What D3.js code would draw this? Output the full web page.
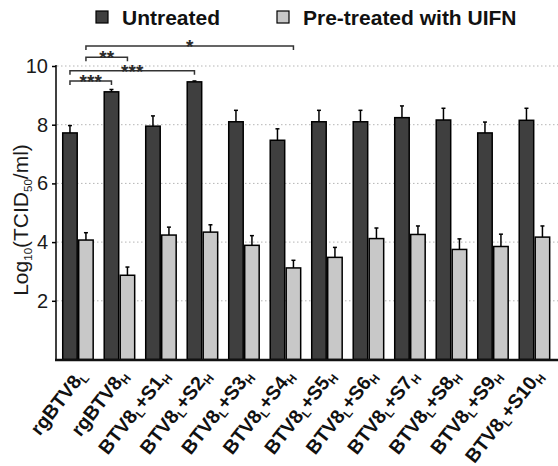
<!DOCTYPE html>
<html><head><meta charset="utf-8">
<script src="https://cdn.jsdelivr.net/npm/d3@7"></script>
<style>body{margin:0;background:#fff}svg{display:block;font-family:"Liberation Sans",Arial,sans-serif}</style>
</head><body><svg id="c" width="558" height="466"></svg>
<script>
const categories = ["rgBTV8_L","rgBTV8_H","BTV8_L+S1_H","BTV8_L+S2_H","BTV8_L+S3_H","BTV8_L+S4_H","BTV8_L+S5_H","BTV8_L+S6_H","BTV8_L+S7_H","BTV8_L+S8_H","BTV8_L+S9_H","BTV8_L+S10_H"];
const seriesNames = ["Untreated","Pre-treated with UIFN"];
const untreated = [7.72,9.12,7.95,9.46,8.10,7.47,8.10,8.10,8.24,8.16,7.72,8.15];
const untreatedErr = [0.25,0.08,0.35,0.03,0.39,0.39,0.39,0.39,0.40,0.40,0.37,0.41];
const pretreated = [4.07,2.87,4.24,4.34,3.89,3.12,3.48,4.12,4.26,3.75,3.85,4.17];
const pretreatedErr = [0.25,0.28,0.27,0.25,0.33,0.26,0.34,0.36,0.29,0.36,0.42,0.38];
const yTicks = [2,4,6,8,10];
// significance comparisons
const sigGroupA = [0,0,0,0];
const sigSeriesA = [0,0,1,1];
const sigGroupB = [1,3,1,5];
const sigSeriesB = [0,0,1,1];
const sigLabels = ["***","***","**","*"];

const colors = ["#3f3f3f","#c8c8c8"];
const svg = d3.select("#c");
const x = d3.scaleBand().domain(categories).range([57.2,555.2]).paddingInner(0.23).paddingOuter(0.115);
const xs = d3.scaleBand().domain([0,1]).range([0,x.bandwidth()]);
const y = d3.scaleLinear().domain([0,10]).range([359.5,66]);

// gridlines
svg.append("g").selectAll("line").data(yTicks).join("line")
  .attr("x1",57).attr("x2",558).attr("y1",d=>y(d)).attr("y2",d=>y(d))
  .attr("stroke","#b5b5b5").attr("stroke-width",1).attr("stroke-dasharray","1.5,2.5");

// y axis
const ax = svg.append("g").attr("transform","translate(56,0)")
  .call(d3.axisLeft(y).tickValues(yTicks).tickSize(4).tickPadding(4).tickFormat(d3.format("d")));
ax.select(".domain").remove();
ax.selectAll(".tick line").attr("stroke","#000").attr("stroke-width",1.5);
ax.selectAll(".tick text").attr("font-size",20).attr("fill","#1a1a1a").attr("font-family","Liberation Sans, Arial, sans-serif");
svg.append("line").attr("x1",56).attr("x2",56).attr("y1",y(10)-1).attr("y2",y(0)).attr("stroke","#000").attr("stroke-width",1.5);

// bars
const vals = [untreated, pretreated];
const errs = [untreatedErr, pretreatedErr];
const barData = [];
categories.forEach((c,i)=>[0,1].forEach(s=>barData.push({c,i,s,v:vals[s][i],e:errs[s][i]})));
const g = svg.append("g");
g.selectAll("line.err").data(barData).join("line").attr("class","err")
  .attr("x1",d=>x(d.c)+xs(d.s)+xs.bandwidth()/2).attr("x2",d=>x(d.c)+xs(d.s)+xs.bandwidth()/2)
  .attr("y1",d=>y(d.v)).attr("y2",d=>y(d.v+d.e)).attr("stroke","#000").attr("stroke-width",1.5);
g.selectAll("line.cap").data(barData).join("line").attr("class","cap")
  .attr("x1",d=>x(d.c)+xs(d.s)+xs.bandwidth()/2-2).attr("x2",d=>x(d.c)+xs(d.s)+xs.bandwidth()/2+2)
  .attr("y1",d=>y(d.v+d.e)).attr("y2",d=>y(d.v+d.e)).attr("stroke","#000").attr("stroke-width",1.5);
g.selectAll("rect").data(barData).join("rect")
  .attr("x",d=>x(d.c)+xs(d.s)+0.75).attr("width",xs.bandwidth()-1.5)
  .attr("y",d=>y(d.v)).attr("height",d=>y(0)-y(d.v))
  .attr("fill",d=>colors[d.s]).attr("stroke","#000").attr("stroke-width",1.5);

// baseline
svg.append("line").attr("x1",55).attr("x2",558).attr("y1",y(0)+0.5).attr("y2",y(0)+0.5).attr("stroke","#111").attr("stroke-width",2.5);

// x labels
const xl = svg.append("g");
categories.forEach((c)=>{
  const cx = x(c)+x.bandwidth()/2 + 9;
  const t = xl.append("text").attr("transform",`translate(${cx},376) rotate(-52)`)
    .attr("text-anchor","end").attr("font-size",19.5).attr("font-weight","bold").attr("fill","#111");
  const parts = c.split(/(_.)/).filter(p=>p.length);
  let sub=false;
  parts.forEach(p=>{
    if(p[0]==="_"){
      t.append("tspan").attr("font-size",12).attr("dy",4).text(p[1]);
      sub=true;
    } else {
      t.append("tspan").attr("dy",sub?-4:0).text(p);
      sub=false;
    }
  });
});

// y label
const yl = svg.append("text").attr("transform","translate(28,220) rotate(-90)").attr("text-anchor","middle")
  .attr("font-size",21).attr("fill","#1a1a1a");
yl.append("tspan").text("Log");
yl.append("tspan").attr("font-size",11.5).attr("dy",4).text("10");
yl.append("tspan").attr("dy",-4).text("(TCID");
yl.append("tspan").attr("font-size",11.5).attr("dy",4).text("50");
yl.append("tspan").attr("dy",-4).text("/ml)");

// significance brackets
const bracketY = [81,70.7,57.3,46];
sigLabels.forEach((lab,k)=>{
  const xa = x(categories[sigGroupA[k]])+xs(sigSeriesA[k])+xs.bandwidth()/2;
  const xb = x(categories[sigGroupB[k]])+xs(sigSeriesB[k])+xs.bandwidth()/2;
  const by = bracketY[k];
  svg.append("path").attr("d",`M${xa},${by+4}V${by}H${xb}V${by+4}`).attr("fill","none").attr("stroke","#333").attr("stroke-width",1.5);
  svg.append("text").attr("x",(xa+xb)/2).attr("y",by+7).attr("text-anchor","middle").attr("font-size",19).attr("font-weight","bold").attr("fill","#2a2a2a").text(lab);
});

// legend
const lg = svg.append("g");
const legX = [96,277];
seriesNames.forEach((n,i)=>{
  lg.append("rect").attr("x",legX[i]).attr("y",11).attr("width",12).attr("height",12).attr("fill",colors[i]).attr("stroke","#000").attr("stroke-width",1.2);
  lg.append("text").attr("x",legX[i]+26).attr("y",24.5).attr("font-size",21).attr("font-weight","bold").attr("fill","#111").text(n);
});
</script></body></html>
